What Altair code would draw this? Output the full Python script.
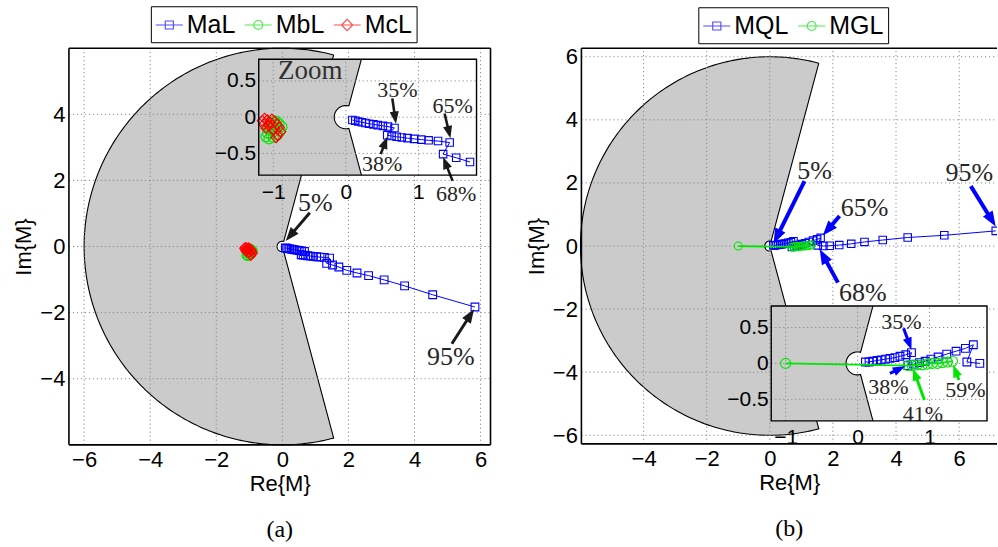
import math
import numpy as np
import pandas as pd
import altair as alt

SANS = "Liberation Sans"
SERIF = "Liberation Serif"
BLUE, GREEN, RED = "#0000ff", "#00e600", "#ff0000"
GRAY = "#cbcbcb"
GRIDC = "#8a8a8a"
TXT = "#262626"

# ------------------------------------------------------------------
# Data
# ------------------------------------------------------------------
# Panel (a)
MaL_x = [0.09, 0.13, 0.17, 0.22, 0.27, 0.32, 0.38, 0.44, 0.51, 0.58, 0.67,
         0.57, 0.63, 0.70, 0.77, 0.85, 0.94, 1.04, 1.14, 1.27, 1.43,
         1.34, 1.52, 1.71, 1.95, 2.26, 2.61, 3.08, 3.70, 4.55, 5.83]
MaL_y = [-0.04, -0.05, -0.06, -0.07, -0.08, -0.09, -0.10, -0.11, -0.12, -0.13, -0.15,
         -0.25, -0.26, -0.27, -0.28, -0.29, -0.30, -0.31, -0.32, -0.33, -0.35,
         -0.51, -0.56, -0.62, -0.72, -0.80, -0.88, -1.01, -1.19, -1.46, -1.83]
MbL_x = [-0.95, -0.98, -1.02, -1.05, -1.08, -1.10, -1.06, -1.00, -0.94, -0.90,
         -0.88, -0.92, -0.98, -1.04, -1.07]
MbL_y = [-0.06, -0.10, -0.14, -0.18, -0.22, -0.27, -0.30, -0.28, -0.24, -0.19,
         -0.13, -0.09, -0.05, -0.08, -0.12]
McL_x = [-1.15, -1.12, -1.08, -1.05, -1.02, -0.98, -0.95, -0.92, -0.90, -0.94,
         -1.00, -1.06, -1.10, -1.13, -0.96]
McL_y = [-0.05, -0.02, -0.04, -0.08, -0.03, -0.06, -0.10, -0.14, -0.20, -0.25,
         -0.18, -0.12, -0.15, -0.10, -0.28]

# Panel (b)
MQL_x = [0.11, 0.16, 0.21, 0.27, 0.33, 0.39, 0.45, 0.52, 0.59, 0.67, 0.75,
         0.70, 0.78, 0.86, 0.94, 1.02, 1.12, 1.24, 1.37, 1.50, 1.61,
         1.52, 1.70, 1.90, 2.20, 2.58, 3.00, 3.58, 4.37, 5.53, 7.16]
MQL_y = [0.02, 0.02, 0.03, 0.04, 0.05, 0.06, 0.07, 0.08, 0.10, 0.12, 0.15,
         -0.03, -0.01, 0.01, 0.03, 0.06, 0.09, 0.13, 0.17, 0.21, 0.26,
         0.02, 0.00, 0.01, 0.03, 0.07, 0.13, 0.19, 0.27, 0.34, 0.48]
MGL_x = [-1.00, 0.70, 0.76, 0.83, 0.90, 0.97, 1.04, 1.11, 1.18, 1.25, 1.32]
MGL_y = [0.00, -0.03, -0.03, -0.02, -0.02, -0.01, 0.00, 0.00, 0.01, 0.02, 0.03]

# Annotations: label, text position, arrow tail, arrow head (data units)
A_main_lab = ["5%", "95%"]
A_main_txt = [(1.00, 1.32), (5.10, -3.35)]
A_main_tail = [(0.83, 1.02), (5.13, -2.94)]
A_main_head = [(0.10, 0.17), (5.80, -1.90)]

A_in_lab = ["35%", "38%", "65%", "68%"]
A_in_txt = [(0.71, 0.37), (0.50, -0.65), (1.47, 0.16), (1.52, -1.06)]
A_in_tail = [(0.64, 0.26), (0.48, -0.51), (1.36, 0.05), (1.47, -0.88)]
A_in_head = [(0.69, -0.09), (0.57, -0.27), (1.44, -0.29), (1.34, -0.55)]

B_main_lab = ["5%", "65%", "95%", "68%"]
B_main_txt = [(1.42, 2.38), (3.00, 1.22), (6.32, 2.33), (2.95, -1.48)]
B_main_tail = [(1.10, 2.06), (2.21, 0.95), (6.37, 1.90), (2.16, -1.16)]
B_main_head = [(0.12, 0.08), (1.68, 0.33), (7.16, 0.62), (1.58, -0.10)]

B_in_blue_lab = ["35%", "38%"]
B_in_blue_txt = [(0.61, 0.58), (0.43, -0.33)]
B_in_blue_tail = [(0.64, 0.49), (0.45, -0.14)]
B_in_blue_head = [(0.75, 0.19), (0.66, -0.04)]
B_in_green_lab = ["41%", "59%"]
B_in_green_txt = [(0.91, -0.70), (1.50, -0.37)]
B_in_green_tail = [(0.93, -0.51), (1.41, -0.23)]
B_in_green_head = [(0.77, -0.07), (1.33, -0.02)]

# Stability-region geometry (disk with excluded wedge and a notch)
R_OUT = 6.0
WEDGE = 75.0
R_NOTCH = 0.16

ARROW = "M0,0L-0.75,2L0.75,2Z"
LEG_SHAPES = {
    "square": "M-1,0L1,0M-0.3,-0.3L0.3,-0.3L0.3,0.3L-0.3,0.3Z",
    "circle": "M-1,0L1,0M0.33,0A0.33,0.33,0,1,1,-0.33,0A0.33,0.33,0,1,1,0.33,0Z",
    "diamond": "M-1,0L1,0M0,-0.42L0.42,0L0,0.42L-0.42,0Z",
}


def sdf(xs, ys):
    return pd.DataFrame({"x": xs, "y": ys, "i": np.arange(len(xs))})


def scale(dom, rng=None):
    if rng is None:
        return alt.Scale(domain=dom, nice=False, zero=False)
    return alt.Scale(domain=dom, range=rng, nice=False, zero=False)


def region_main():
    a = np.radians(np.linspace(WEDGE, 360 - WEDGE, 241))
    outer = np.c_[R_OUT * np.cos(a), R_OUT * np.sin(a)]
    b = np.radians(np.linspace(-WEDGE, -(360 - WEDGE), 61))
    notch = np.c_[R_NOTCH * np.cos(b), R_NOTCH * np.sin(b)]
    return np.vstack([outer, notch, outer[:1]])


def region_inset(xdom, ydom):
    cot = 1.0 / math.tan(math.radians(WEDGE))
    b = np.radians(np.linspace(-WEDGE, -(360 - WEDGE), 61))
    notch = np.c_[R_NOTCH * np.cos(b), R_NOTCH * np.sin(b)]
    lo = np.array([[-ydom[0] * cot, ydom[0]]])
    hi = np.array([[ydom[1] * cot, ydom[1]]])
    outline = np.vstack([lo, notch, hi])
    fill = np.vstack([[[xdom[0], ydom[0]]], outline,
                      [[xdom[0], ydom[1]]], [[xdom[0], ydom[0]]]])
    return fill, outline


def pdf(p):
    return pd.DataFrame({"x": p[:, 0], "y": p[:, 1], "i": np.arange(len(p))})


class Ctx:
    """Scales + axes shared by all layers of one coordinate system."""
    def __init__(self, xs, ys, ax, ay, ppu):
        self.xs, self.ys, self.ax, self.ay, self.ppu = xs, ys, ax, ay, ppu

    def X(self, f):
        return alt.X(f"{f}:Q", scale=self.xs, axis=self.ax)

    def Y(self, f):
        return alt.Y(f"{f}:Q", scale=self.ys, axis=self.ay)

    def xy(self, xf="x", yf="y"):
        return dict(x=self.X(xf), y=self.Y(yf))


def series(df, c, color, shape, size, clip, xlim=None, sw=1.0):
    base = alt.Chart(df)
    if xlim is not None:
        base = base.transform_filter(
            (alt.datum.x >= xlim[0]) & (alt.datum.x <= xlim[1]))
    line = base.mark_line(color=color, strokeWidth=sw, clip=clip).encode(
        order="i:Q", **c.xy())
    pts = base.mark_point(shape=shape, filled=False, color=color, size=size,
                          strokeWidth=1.1, opacity=1, clip=clip).encode(**c.xy())
    return [line, pts]


def arrows(labels, txt, tail, head, c, color, tcolor, fsize, shaft, hsize):
    rows = []
    hlen = math.sqrt(hsize)  # arrowhead length in px
    for lab, (tx, ty), (ax, ay), (hx, hy) in zip(labels, txt, tail, head):
        dx, dy = hx - ax, hy - ay
        L = math.hypot(dx, dy)
        back = 0.6 * hlen / c.ppu
        rows.append(dict(label=lab, tx=tx, ty=ty, ax=ax, ay=ay,
                         sx=hx - dx / L * back, sy=hy - dy / L * back,
                         hx=hx, hy=hy,
                         ang=math.degrees(math.atan2(dx, dy)) % 360))
    df = pd.DataFrame(rows)
    base = alt.Chart(df)
    shaft_l = base.mark_rule(color=color, strokeWidth=shaft).encode(
        x=c.X("ax"), y=c.Y("ay"), x2="sx:Q", y2="sy:Q")
    head_l = base.mark_point(shape=ARROW, filled=True, color=color, size=hsize,
                             opacity=1, strokeWidth=0).encode(
        angle=alt.Angle("ang:Q", scale=None), **c.xy("hx", "hy"))
    text_l = base.mark_text(font=SERIF, fontSize=fsize, color=tcolor,
                            align="center", baseline="middle").encode(
        text="label:N", **c.xy("tx", "ty"))
    return [shaft_l, head_l, text_l]


def grid_layers(c, xdom, ydom, gx, gy, width=1.0):
    gv = pd.DataFrame({"x": gx, "y0": ydom[0], "y1": ydom[1]})
    gh = pd.DataFrame({"y": gy, "x0": xdom[0], "x1": xdom[1]})
    v = alt.Chart(gv).mark_rule(color=GRIDC, strokeDash=[1.2, 2.8], strokeWidth=width).encode(
        x=c.X("x"), y=c.Y("y0"), y2="y1:Q")
    h = alt.Chart(gh).mark_rule(color=GRIDC, strokeDash=[1.2, 2.8], strokeWidth=width).encode(
        y=c.Y("y"), x=c.X("x0"), x2="x1:Q")
    return [v, h]


def frame_layer(c, xdom, ydom, sides):
    rows = []
    if "top" in sides:
        rows.append(dict(x0=xdom[0], x1=xdom[1], y0=ydom[1], y1=ydom[1]))
    if "bottom" in sides:
        rows.append(dict(x0=xdom[0], x1=xdom[1], y0=ydom[0], y1=ydom[0]))
    if "left" in sides:
        rows.append(dict(x0=xdom[0], x1=xdom[0], y0=ydom[0], y1=ydom[1]))
    if "right" in sides:
        rows.append(dict(x0=xdom[1], x1=xdom[1], y0=ydom[0], y1=ydom[1]))
    return alt.Chart(pd.DataFrame(rows)).mark_rule(color="black", strokeWidth=1.6).encode(
        x=c.X("x0"), x2="x1:Q", y=c.Y("y0"), y2="y1:Q")


def legend_layer(field, names, colors, shapes, lx, ly):
    leg = alt.Legend(title=None, orient="none", legendX=lx, legendY=ly,
                     direction="horizontal", strokeColor="black", fillColor="white",
                     padding=4, labelFont=SANS, labelFontSize=25, labelColor="black",
                     symbolSize=729, symbolStrokeWidth=1.1, labelOffset=3,
                     columnPadding=6)
    df = pd.DataFrame({field: names})
    return alt.Chart(df).mark_point(filled=False, size=729, clip=True, strokeWidth=1.1).encode(
        x=alt.value(-600), y=alt.value(-600),
        color=alt.Color(f"{field}:N", scale=alt.Scale(domain=names, range=colors), legend=leg),
        shape=alt.Shape(f"{field}:N", scale=alt.Scale(domain=names,
                                                      range=[LEG_SHAPES[s] for s in shapes]),
                        legend=leg))


def main_axes(xticks, yticks):
    ax = alt.Axis(values=xticks, orient="bottom", grid=False, ticks=False, domain=False,
                  labelFont=SANS, labelFontSize=22, labelColor="black", labelPadding=5,
                  title="Re{M}", titleFont=SANS, titleFontSize=22, titleFontWeight="normal",
                  titleColor="black", titlePadding=3)
    ay = alt.Axis(values=yticks, orient="left", grid=False, ticks=False, domain=False,
                  labelFont=SANS, labelFontSize=22, labelColor="black", labelPadding=4,
                  title="Im{M}", titleFont=SANS, titleFontSize=22, titleFontWeight="normal",
                  titleColor="black", titlePadding=4)
    return ax, ay


def inset_axes(xticks, yticks, xoff, yoff):
    ax = alt.Axis(values=xticks, orient="bottom", offset=xoff, grid=False, ticks=False,
                  domain=False, labelFont=SANS, labelFontSize=21, labelColor="black",
                  labelPadding=6, title=None, zindex=1, format="~g")
    ay = alt.Axis(values=yticks, orient="left", offset=yoff, grid=False, ticks=False,
                  domain=False, labelFont=SANS, labelFontSize=21, labelColor="black",
                  labelPadding=3, title=None, zindex=1, format="~g")
    return ax, ay


def build_panel(cfg):
    ax, ay = main_axes(cfg["xticks"], cfg["yticks"])
    c = Ctx(scale(cfg["xdom"]), scale(cfg["ydom"]), ax, ay, cfg["ppu"])
    reg = pdf(region_main())
    gray = alt.Chart(reg).mark_line(color="black", fill=GRAY, strokeWidth=1.1).encode(
        order="i:Q", **c.xy())
    layers = [gray]
    layers += grid_layers(c, cfg["xdom"], cfg["ydom"], cfg["gridx"], cfg["gridy"])
    for s in cfg["series"]:
        layers += series(s["df"], c, s["color"], s["shape"], s["size"], True, sw=s.get("sw", 1.0))
    for a in cfg["main_arrows"]:
        layers += arrows(*a["args"], c, a["color"], TXT, a["fs"], a["shaft"], a["hsize"])
    layers.append(frame_layer(c, cfg["xdom"], cfg["ydom"], cfg["frame"]))
    layers.append(legend_layer(cfg["field"], cfg["names"], cfg["colors"], cfg["shapes"],
                               cfg["legX"], cfg["legY"]))
    main = alt.layer(*layers)

    # ---- inset ----
    ic = cfg["inset"]
    iax, iay = inset_axes(ic["xticks"], ic["yticks"], ic["xoff"], ic["yoff"])
    ci = Ctx(scale(ic["xdom"], ic["xr"]), scale(ic["ydom"], ic["yr"]), iax, iay, ic["ppu"])
    box = pd.DataFrame({"x0": [ic["xdom"][0]], "x1": [ic["xdom"][1]],
                        "y0": [ic["ydom"][0]], "y1": [ic["ydom"][1]]})
    bg = alt.Chart(box).mark_rect(fill="white", strokeWidth=0).encode(
        x=ci.X("x0"), x2="x1:Q", y=ci.Y("y0"), y2="y1:Q")
    fill_pts, out_pts = region_inset(ic["xdom"], ic["ydom"])
    ifill = alt.Chart(pdf(fill_pts)).mark_line(color=GRAY, fill=GRAY, strokeWidth=0.5).encode(
        order="i:Q", **ci.xy())
    iout = alt.Chart(pdf(out_pts)).mark_line(color="black", strokeWidth=1.1).encode(
        order="i:Q", **ci.xy())
    ilayers = [bg, ifill, iout]
    ilayers += grid_layers(ci, ic["xdom"], ic["ydom"], ic["xticks"], ic["yticks"])
    for s in cfg["series"]:
        ilayers += series(s["df"], ci, s["color"], s["shape"], s["isize"], False,
                          xlim=ic["xdom"], sw=s.get("sw", 1.0))
    for a in ic["arrows"]:
        ilayers += arrows(*a["args"], ci, a["color"], TXT, a["fs"], a["shaft"], a["hsize"])
    if ic.get("zoom_text"):
        zt = pd.DataFrame({"t": ["Zoom"], "x": [ic["zoom_xy"][0]], "y": [ic["zoom_xy"][1]]})
        ilayers.append(alt.Chart(zt).mark_text(font=SERIF, fontSize=27, color="#303030",
                                               align="center", baseline="middle").encode(
            text="t:N", **ci.xy()))
    ilayers.append(alt.Chart(box).mark_rect(fill=None, stroke="black", strokeWidth=1.4).encode(
        x=ci.X("x0"), x2="x1:Q", y=ci.Y("y0"), y2="y1:Q"))
    inset = alt.layer(*ilayers)

    return alt.layer(main, inset).resolve_scale(x="independent", y="independent").properties(
        width=cfg["W"], height=cfg["H"],
        title=alt.TitleParams(cfg["caption"], orient="bottom", font=SERIF, fontSize=24,
                              fontWeight="normal", color="black", offset=23, anchor="middle"))


cfg_a = dict(
    xdom=[-6.46, 6.30], ydom=[-6.0, 6.0], W=422, H=397, ppu=33.07,
    xticks=[-6, -4, -2, 0, 2, 4, 6], yticks=[-4, -2, 0, 2, 4],
    gridx=[-6, -4, -2, 0, 2, 4, 6], gridy=[-4, -2, 0, 2, 4],
    frame=["top", "bottom", "left", "right"],
    field="series_a", names=["MaL", "MbL", "McL"], colors=[BLUE, GREEN, RED],
    shapes=["square", "circle", "diamond"], legX=82, legY=-42,
    series=[
        dict(df=sdf(MbL_x, MbL_y), color=GREEN, shape="circle", size=64, isize=100),
        dict(df=sdf(McL_x, McL_y), color=RED, shape="diamond", size=90, isize=110),
        dict(df=sdf(MaL_x, MaL_y), color=BLUE, shape="square", size=60, isize=56),
    ],
    main_arrows=[dict(args=(A_main_lab, A_main_txt, A_main_tail, A_main_head),
                      color="#1a1a1a", fs=26, shaft=3, hsize=190)],
    caption="(a)",
    inset=dict(xdom=[-1.2, 1.8], ydom=[-0.8, 0.8], xr=[190, 408], yr=[127, 11],
               xticks=[-1, 0, 1], yticks=[-0.5, 0, 0.5], xoff=-270, yoff=-190, ppu=72.6,
               arrows=[dict(args=(A_in_lab, A_in_txt, A_in_tail, A_in_head),
                            color="#1a1a1a", fs=22, shaft=2.6, hsize=150)],
               zoom_text=True, zoom_xy=(-0.49, 0.64)),
)

cfg_b = dict(
    xdom=[-5.97, 7.20], ydom=[-6.27, 6.27], W=416, H=396, ppu=31.58,
    xticks=[-4, -2, 0, 2, 4, 6], yticks=[-6, -4, -2, 0, 2, 4, 6],
    gridx=[-4, -2, 0, 2, 4, 6], gridy=[-6, -4, -2, 0, 2, 4, 6],
    frame=["top", "bottom", "left"],
    field="series_b", names=["MQL", "MGL"], colors=[BLUE, GREEN],
    shapes=["square", "circle"], legX=117, legY=-41,
    series=[
        dict(df=sdf(MQL_x, MQL_y), color=BLUE, shape="square", size=56, isize=60),
        dict(df=sdf(MGL_x, MGL_y), color=GREEN, shape="circle", size=64, isize=100, sw=1.8),
    ],
    main_arrows=[dict(args=(B_main_lab, B_main_txt, B_main_tail, B_main_head),
                      color=BLUE, fs=26, shaft=4, hsize=230)],
    caption="(b)",
    inset=dict(xdom=[-1.2, 1.8], ydom=[-0.8, 0.8], xr=[190, 406], yr=[373, 258],
               xticks=[-1, 0, 1], yticks=[-0.5, 0, 0.5], xoff=-23, yoff=-190, ppu=72.0,
               arrows=[dict(args=(B_in_blue_lab, B_in_blue_txt, B_in_blue_tail, B_in_blue_head),
                            color=BLUE, fs=22, shaft=3, hsize=150),
                       dict(args=(B_in_green_lab, B_in_green_txt, B_in_green_tail, B_in_green_head),
                            color=GREEN, fs=22, shaft=3, hsize=150)],
               zoom_text=False),
)

panel_a = build_panel(cfg_a)
panel_b = build_panel(cfg_b)

chart = alt.hconcat(panel_a, panel_b, spacing=91, bounds="flush").resolve_scale(
    color="independent", shape="independent"
).properties(
    padding={"left": 12, "top": 5, "right": 0, "bottom": 0},
    background="white",
).configure_view(stroke=None)

chart.save("out.html", embed_options={"renderer": "svg", "actions": False})
